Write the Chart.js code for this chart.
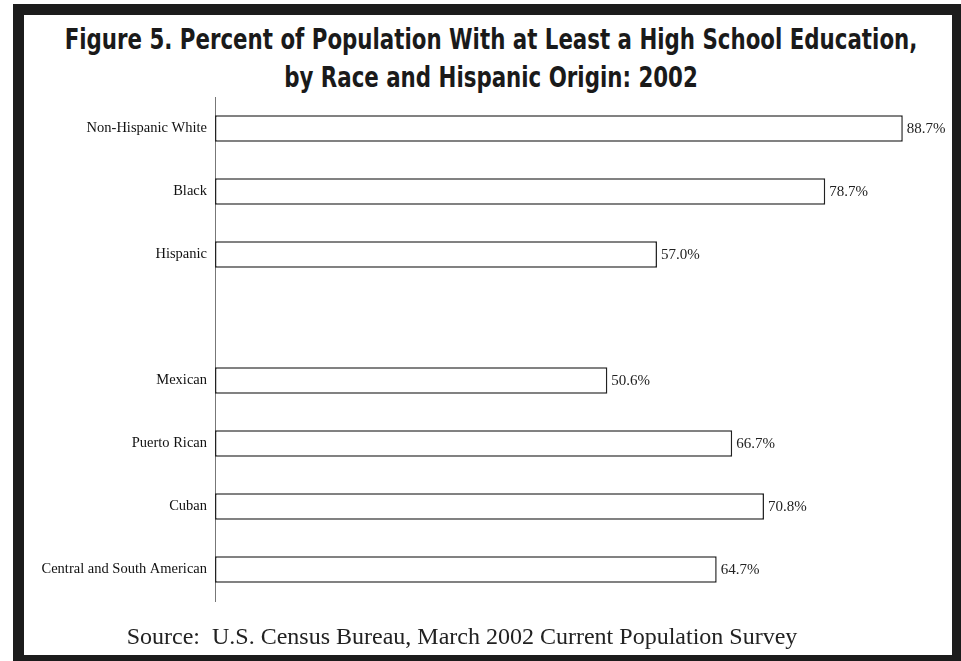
<!DOCTYPE html>
<html lang="en">
<head>
    <meta charset="UTF-8">
    <title>Figure 5</title>
    <script src="https://cdn.jsdelivr.net/npm/chart.js"></script>
    <style>
        body { margin: 0; width: 961px; height: 661px; background: #fff; overflow: hidden; position: relative; }
        .frame {
            position: absolute; left: 13px; top: 4px; width: 948px; height: 657px;
            box-sizing: border-box; border-style: solid; border-color: #1c1c1c;
            border-width: 11px 9px 6px 11px;
        }
        .title {
            position: absolute; left: 0; top: 20px; width: 961px; margin: 0;
            font-family: 'Liberation Sans Narrow', 'DejaVu Sans Condensed', 'Arial Narrow', sans-serif;
            font-weight: bold; font-size: 29px; line-height: 38px; color: #1a1a1a;
        }
        .title span {
            display: block; width: max-content; white-space: nowrap;
            position: relative; left: 491px;
        }
        .source {
            position: absolute; left: 0; top: 623px; width: 924px; text-align: center;
            font-family: 'Liberation Serif', 'Times New Roman', serif; font-size: 24px; color: #222;
            white-space: pre;
        }
        .chart-box { position: absolute; left: 0; top: 0; width: 961px; height: 661px; }
    </style>
</head>
<body>
    <div class="frame"></div>
    <h1 class="title"><span>Figure 5. Percent of Population With at Least a High School Education,</span><span>by Race and Hispanic Origin: 2002</span></h1>
    <div class="chart-box"><canvas id="eduChart" width="961" height="661"></canvas></div>
    <div class="source">Source:  U.S. Census Bureau, March 2002 Current Population Survey</div>
    <script>
    // groups, with a blank row between the race groups and the Hispanic origin groups
    const groups = ['Non-Hispanic White', 'Black', 'Hispanic', '', 'Mexican', 'Puerto Rican', 'Cuban', 'Central and South American'];
    const percents = [88.7, 78.7, 57.0, null, 50.6, 66.7, 70.8, 64.7];

    // squeeze the heading into a condensed look (no narrow font installed)
    const titleFont = '700 29px "Liberation Sans Narrow", "DejaVu Sans Condensed", "Arial Narrow", sans-serif';
    const measure = document.createElement('canvas').getContext('2d');
    measure.font = titleFont;
    const squeeze = 853 / measure.measureText(document.querySelector('.title span').textContent).width;
    document.querySelectorAll('.title span').forEach(s => {
        s.style.transform = 'translateX(-50%) scaleX(' + squeeze.toFixed(3) + ')';
    });

    // writes the percent just past the end of each bar
    const valueLabels = {
        id: 'valueLabels',
        afterDatasetsDraw(chart) {
            const ctx = chart.ctx;
            const meta = chart.getDatasetMeta(0);
            ctx.save();
            ctx.font = '15px "Liberation Serif", "Times New Roman", serif';
            ctx.fillStyle = '#222';
            ctx.textAlign = 'left';
            ctx.textBaseline = 'middle';
            meta.data.forEach((bar, i) => {
                const v = percents[i];
                if (v === null) return;
                ctx.fillText(v.toFixed(1) + '%', bar.x + 4, bar.y + 1);
            });
            ctx.restore();
        }
    };

    const ctx = document.getElementById('eduChart').getContext('2d');
    new Chart(ctx, {
        type: 'bar',
        data: {
            labels: groups,
            datasets: [{
                data: percents,
                backgroundColor: '#fff',
                borderColor: '#222',
                borderWidth: 1.5,
                borderSkipped: false,
                categoryPercentage: 1,
                barPercentage: 0.42
            }]
        },
        options: {
            indexAxis: 'y',
            responsive: false,
            animation: false,
            layout: {
                padding: { left: 0, right: 21, top: 97, bottom: 60 }
            },
            plugins: {
                legend: { display: false },
                tooltip: { enabled: false }
            },
            scales: {
                x: {
                    display: false,
                    min: 0,
                    max: 93.5
                },
                y: {
                    grid: { display: false, drawTicks: false },
                    border: { display: true, color: '#777', width: 1 },
                    ticks: {
                        padding: 8,
                        color: '#111',
                        font: { family: '"Liberation Serif", "Times New Roman", serif', size: 14.5 }
                    },
                    afterFit(axis) {
                        axis.width = 215;
                    }
                }
            }
        },
        plugins: [valueLabels]
    });
    </script>
</body>
</html>
